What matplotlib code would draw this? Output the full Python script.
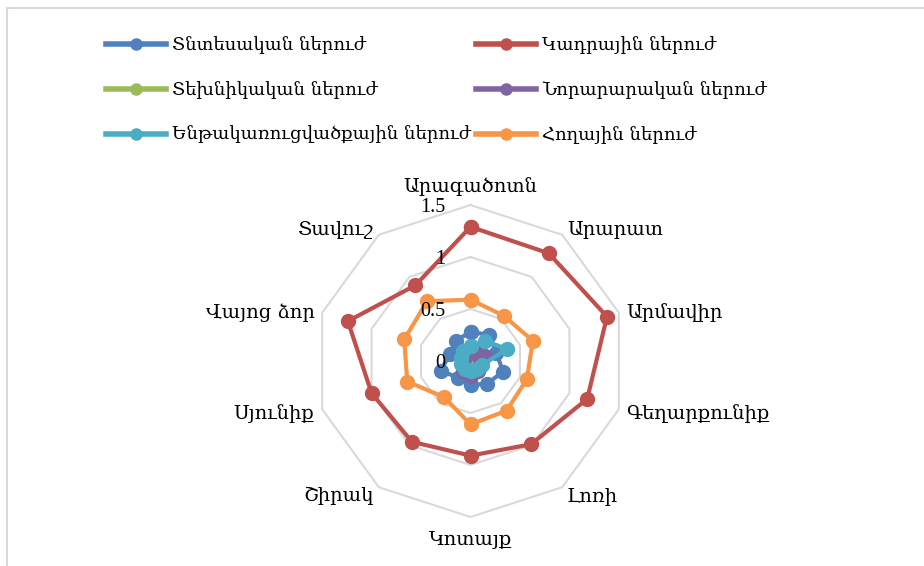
import numpy as np
import matplotlib
matplotlib.use("Agg")
import matplotlib.pyplot as plt
from matplotlib.lines import Line2D
from matplotlib.patches import Rectangle

categories = ['Արագածոտն', 'Արարատ', 'Արմավիր', 'Գեղարքունիք', 'Լոռի',
              'Կոտայք', 'Շիրակ', 'Սյունիք', 'Վայոց ձոր', 'Տավուշ']
series_names = ['Տնտեսական ներուժ', 'Կադրային ներուժ', 'Տեխնիկական ներուժ',
                'Նորարարական ներուժ', 'Ենթակառուցվածքային ներուժ', 'Հողային ներուժ']
economic = [0.28, 0.31, 0.26, 0.33, 0.27, 0.23, 0.20, 0.30, 0.21, 0.24]
human = [1.29, 1.28, 1.38, 1.18, 0.99, 0.91, 0.96, 1.00, 1.24, 0.90]
technical = [0.08, 0.10, 0.12, 0.08, 0.07, 0.08, 0.07, 0.07, 0.06, 0.07]
innovation = [0.08, 0.10, 0.15, 0.10, 0.12, 0.14, 0.12, 0.08, 0.07, 0.08]
infrastructure = [0.14, 0.24, 0.37, 0.12, 0.10, 0.10, 0.09, 0.10, 0.10, 0.12]
land = [0.59, 0.54, 0.63, 0.57, 0.59, 0.61, 0.43, 0.64, 0.67, 0.71]
rings = [0.5, 1.0, 1.5]
tick_values = [0, 0.5, 1, 1.5]
tick_labels = ['0', '0.5', '1', '1.5']

colors = ['#4F81BD', '#C0504D', '#9BBB59', '#8064A2', '#4BACC6', '#F79646']
all_series = [economic, human, technical, innovation, infrastructure, land]

ARM = ['DejaVu Serif Condensed', 'DejaVu Serif', 'DejaVu Sans']
NUM = ['Liberation Serif', 'DejaVu Serif']

W, H = 924, 566
fig = plt.figure(figsize=(W / 100, H / 100), dpi=100)

# chart border (top & left visible)
fig.patches.append(Rectangle((7 / W, -0.1), 1.2, 1 - 8 / H + 0.1,
                             transform=fig.transFigure, fill=False,
                             edgecolor='#d9d9d9', linewidth=1.5))

cx, cy, R = 470.5, 361, 156
ax = fig.add_axes([(cx - R) / W, (H - cy - R) / H, 2 * R / W, 2 * R / H],
                  projection='polar')
ax.set_theta_zero_location('N')
ax.set_theta_direction(-1)
ax.set_ylim(0, 1.5)
ax.grid(False)
ax.spines['polar'].set_visible(False)
ax.set_xticks([])
ax.set_yticks([])
ax.patch.set_alpha(0)

n = len(categories)
theta = np.arange(n) * 2 * np.pi / n
theta_c = np.append(theta, theta[0])

for r in rings:
    ax.plot(theta_c, [r] * (n + 1), color='#d9d9d9', lw=1.5, zorder=1, clip_on=False)

for name, vals, col in zip(series_names, all_series, colors):
    v = np.append(vals, vals[0])
    ax.plot(theta_c, v, color=col, lw=3.0, marker='o', markersize=10,
            label=name, zorder=3, clip_on=False)

for val, lab in zip(tick_values, tick_labels):
    ax.annotate(lab, xy=(0, val), xytext=(-25, -2), textcoords='offset pixels',
                ha='right', va='center', fontsize=14.5, family=NUM)

for t, lab in zip(theta, categories):
    s, c = np.sin(t), np.cos(t)
    if abs(s) < 1e-6:
        ha = 'center'
        va = 'bottom' if c > 0 else 'top'
        off = (0, 9 if c > 0 else -14)
    else:
        ha = 'left' if s > 0 else 'right'
        va = 'center'
        off = (8 * s, 8 * c - 2)
    ax.annotate(lab, xy=(t, 1.5), xytext=off, textcoords='offset pixels',
                ha=ha, va=va, fontsize=14, family=ARM)

handles = [Line2D([], [], color=col, lw=4, marker='o', markersize=8) for col in colors]
order = [0, 2, 4, 1, 3, 5]
leg = fig.legend([handles[i] for i in order], [series_names[i] for i in order],
                 ncol=2, loc='upper left', bbox_to_anchor=(106 / W, 1 - 36 / H),
                 frameon=False, prop={'family': ARM, 'size': 13},
                 handlelength=3.3, handletextpad=0.35, columnspacing=0.3,
                 labelspacing=1.5, borderaxespad=0, borderpad=0)

fig.savefig('out.png', dpi=100)
